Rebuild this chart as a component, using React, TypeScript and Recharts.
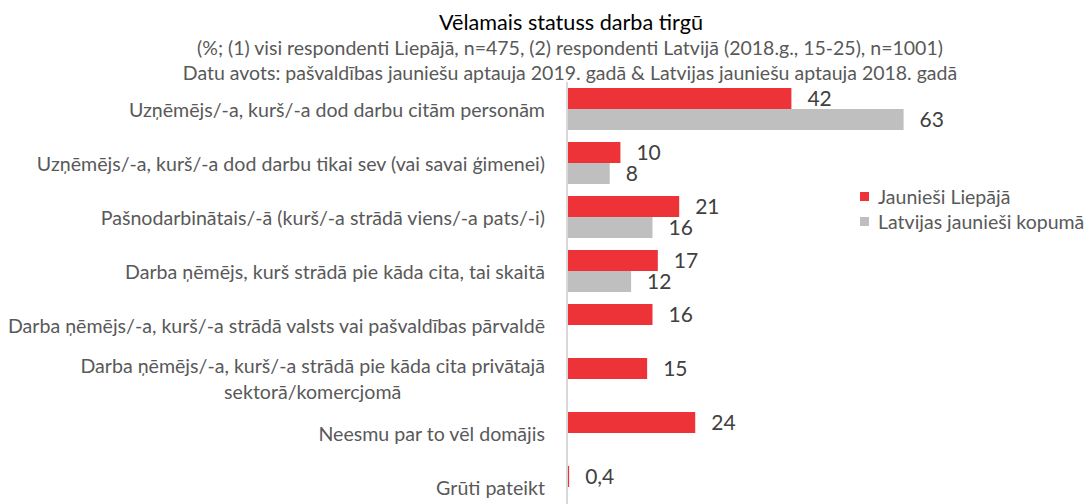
import React from 'react';
import { BarChart, Bar, XAxis, YAxis, LabelList } from 'recharts';

const titleText = 'Vēlamais statuss darba tirgū';
const subtitleLines = [
  '(%; (1) visi respondenti Liepājā, n=475, (2) respondenti Latvijā (2018.g., 15-25), n=1001)',
  'Datu avots: pašvaldības jauniešu aptauja 2019. gadā & Latvijas jauniešu aptauja 2018. gadā',
];

const categories = [
  'Uzņēmējs/-a, kurš/-a dod darbu citām personām',
  'Uzņēmējs/-a, kurš/-a dod darbu tikai sev (vai savai ģimenei)',
  'Pašnodarbinātais/-ā (kurš/-a strādā viens/-a pats/-i)',
  'Darba ņēmējs, kurš strādā pie kāda cita, tai skaitā',
  'Darba ņēmējs/-a, kurš/-a strādā valsts vai pašvaldības pārvaldē',
  'Darba ņēmējs/-a, kurš/-a strādā pie kāda cita privātajā\nsektorā/komercjomā',
  'Neesmu par to vēl domājis',
  'Grūti pateikt',
];

const seriesNames = ['Jaunieši Liepājā', 'Latvijas jaunieši kopumā'];
const liepajaValues: (number | null)[] = [42, 10, 21, 17, 16, 15, 24, 0.4];
const latvijaValues: (number | null)[] = [63, 8, 16, 12, null, null, null, null];

const data = categories.map((c, i) => ({
  category: c,
  liepaja: liepajaValues[i],
  latvija: latvijaValues[i],
}));

const FONT = 'Lato, sans-serif';
const RED = '#EE3338';
const GRAY = '#BFBFBF';
const TEXT = '#595959';
const seriesColors = [RED, GRAY];

let measureCtx: CanvasRenderingContext2D | null = null;
function measure(text: string, size: number): number {
  if (!measureCtx) {
    const c = document.createElement('canvas');
    measureCtx = c.getContext('2d');
  }
  if (!measureCtx) return text.length * size * 0.45;
  measureCtx.font = `${size}px ${FONT}`;
  return measureCtx.measureText(text).width;
}

const CAT_SIZE = 19.6;

const CatTick = (props: any) => {
  const { x, y, payload } = props;
  const lines: string[] = String(payload.value).split('\n');
  const lineH = 26;
  const widths = lines.map((l) => measure(l, CAT_SIZE));
  const maxW = Math.max(...widths);
  const cx = x - maxW / 2;
  const startY = y - ((lines.length - 1) * lineH) / 2 - (lines.length > 1 ? 1 : 0);
  return (
    <g>
      {lines.map((l, i) => (
        <text
          key={i}
          x={lines.length > 1 ? cx : x}
          y={startY + i * lineH}
          textAnchor={lines.length > 1 ? 'middle' : 'end'}
          dominantBaseline="central"
          fill={TEXT}
          fontSize={CAT_SIZE}
          fontFamily={FONT}
        >
          {l}
        </text>
      ))}
    </g>
  );
};

const fmt = (v: any) => (v === null || v === undefined ? '' : String(v).replace('.', ','));

const TEXT_CENTER_X = 570;

export default function App() {
  return (
    <div
      style={{
        position: 'absolute',
        top: 0,
        left: 0,
        width: 1089,
        height: 504,
        overflow: 'hidden',
        background: '#fff',
        fontFamily: FONT,
      }}
    >
      <svg style={{ position: 'absolute', top: 0, left: 0 }} width={1089} height={34}>
        <text
          x={TEXT_CENTER_X + 1}
          y={21}
          textAnchor="middle"
          dominantBaseline="central"
          fontSize={21}
          fontFamily={FONT}
          fill="#000"
          textLength={264}
          lengthAdjust="spacingAndGlyphs"
        >
          {titleText}
        </text>
      </svg>
      {subtitleLines.map((s, i) => (
        <div
          key={i}
          style={{
            position: 'absolute',
            top: 35 + i * 25,
            left: TEXT_CENTER_X - 544.5,
            width: 1089,
            textAlign: 'center',
            fontSize: 19.5,
            color: TEXT,
            lineHeight: '26px',
            whiteSpace: 'nowrap',
          }}
        >
          {s}
        </div>
      ))}
      <div style={{ position: 'absolute', top: 0, left: 0 }}>
        <BarChart
          width={1089}
          height={520}
          data={data}
          layout="vertical"
          margin={{ top: 82, right: 148, bottom: 6, left: 0 }}
          barSize={21}
          barGap={0}
        >
          <XAxis type="number" domain={[0, 70]} hide />
          <YAxis
            type="category"
            dataKey="category"
            width={567}
            axisLine={{ stroke: '#D9D9D9', strokeWidth: 2 }}
            tickLine={false}
            tickMargin={16}
            tick={<CatTick />}
            interval={0}
          />
          <Bar dataKey="liepaja" name={seriesNames[0]} fill={RED} isAnimationActive={false}>
            <LabelList dataKey="liepaja" position="right" offset={16} formatter={fmt} fill="#404040" fontSize={21} fontFamily={FONT} />
          </Bar>
          <Bar dataKey="latvija" name={seriesNames[1]} fill={GRAY} isAnimationActive={false}>
            <LabelList dataKey="latvija" position="right" offset={16} formatter={fmt} fill="#404040" fontSize={21} fontFamily={FONT} />
          </Bar>
        </BarChart>
      </div>
      <div style={{ position: 'absolute', top: 184, left: 860, fontSize: 19.5, color: TEXT, whiteSpace: 'nowrap' }}>
        {seriesNames.map((n, i) => (
          <div key={i} style={{ display: 'flex', alignItems: 'center', height: 25 }}>
            <span style={{ display: 'inline-block', width: 9, height: 9, background: seriesColors[i], marginRight: 9 }} />
            <span>{n}</span>
          </div>
        ))}
      </div>
    </div>
  );
}
